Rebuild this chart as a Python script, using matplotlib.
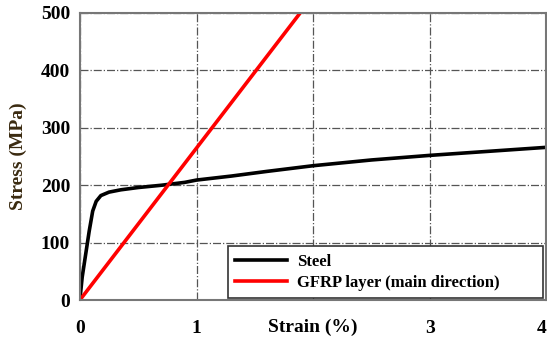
import matplotlib.pyplot as plt
from matplotlib.transforms import blended_transform_factory

# Data
steel_strain = [0.0, 0.02, 0.05, 0.08, 0.11, 0.14, 0.18, 0.25, 0.35, 0.5, 0.7, 0.9, 1.0, 1.3, 1.6, 2.0, 2.5, 3.0, 3.5, 4.0]
steel_stress = [0, 40, 80, 120, 155, 172, 182, 188, 192, 196, 200, 205, 209, 216, 224, 234, 244, 252, 259, 266]
gfrp_strain = [0.0, 1.9]
gfrp_stress = [0, 503]

xticks = [0, 1, 3, 4]
yticks = [0, 100, 200, 300, 400, 500]

plt.rcParams['font.family'] = ['Liberation Serif', 'DejaVu Serif']

fig = plt.figure(figsize=(5.47, 3.41), dpi=100)
ax = fig.add_axes([0.146, 0.12, 0.853, 0.842])

ax.plot(steel_strain, steel_stress, color='black', lw=2.6, label='Steel')
ax.plot(gfrp_strain, gfrp_stress, color='#ff0000', lw=2.6, label='GFRP layer (main direction)')

ax.set_xlim(0, 4)
ax.set_ylim(0, 500)
ax.set_xticks([0, 1, 2, 3, 4])
ax.set_xticklabels(['0', '1', '', '3', '4'])
ax.set_yticks(yticks)
ax.grid(True, color='#555555', ls='-.', lw=0.9)
ax.tick_params(length=0, labelsize=14, pad=7)
ax.tick_params(axis='x', pad=14)
for lab in ax.get_xticklabels() + ax.get_yticklabels():
    lab.set_fontweight('bold')
ax.get_xticklabels()[-1].set_horizontalalignment('right')
for sp in ax.spines.values():
    sp.set_color('#777777')
    sp.set_linewidth(1.5)

ax.set_ylabel('Stress (MPa)', fontsize=14, fontweight='bold', color='#3a2a10', labelpad=10)
tr = blended_transform_factory(ax.transData, ax.transAxes)
ax.text(2, -0.095, 'Strain (%)', transform=tr, ha='center', va='center',
        fontsize=14, fontweight='bold')

leg = ax.legend(loc='lower left', bbox_to_anchor=(0.317, 0.007, 0.675, 0.185), mode='expand',
                borderaxespad=0, fancybox=False, edgecolor='#333333', framealpha=1,
                handlelength=3.1, handletextpad=0.6, prop={'weight': 'bold', 'size': 12},
                borderpad=0.45, labelspacing=0.3)
leg.get_frame().set_linewidth(1.2)

fig.savefig('out.png', dpi=100)
